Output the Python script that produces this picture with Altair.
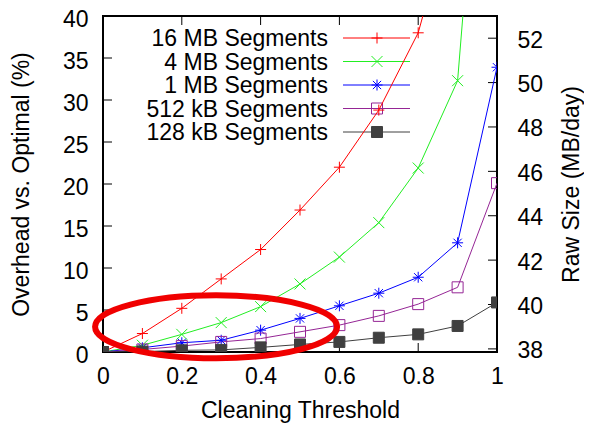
import altair as alt
import pandas as pd

# ---------------- data ----------------
thresholds = [0.0, 0.1, 0.2, 0.3, 0.4, 0.5, 0.6, 0.7, 0.8, 0.9, 1.0]
series_names = ["16 MB Segments", "4 MB Segments", "1 MB Segments",
                "512 kB Segments", "128 kB Segments"]
overhead_16mb = [0, 2.2, 5.2, 8.7, 12.2, 16.9, 22.0, 28.8, 38.0, 55.0, 110.0]
overhead_4mb = [0, 0.8, 2.1, 3.5, 5.4, 8.1, 11.3, 15.4, 21.9, 32.3, 90.0]
overhead_1mb = [0, 0.5, 1.1, 1.4, 2.6, 4.0, 5.5, 7.0, 8.9, 13.0, 33.9]
overhead_512kb = [0, 0.3, 0.7, 1.2, 1.6, 2.4, 3.2, 4.3, 5.7, 7.7, 20.1]
overhead_128kb = [0, 0.05, 0.2, 0.25, 0.55, 0.9, 1.2, 1.7, 2.1, 3.1, 5.9]

threshold_ticks = [0, 0.2, 0.4, 0.6, 0.8, 1.0]
overhead_ticks = [0, 5, 10, 15, 20, 25, 30, 35, 40]
raw_size_ticks = [38, 40, 42, 44, 46, 48, 50, 52]
raw_size_domain = [37.86, 53.0]

ellipse_x = [0.287]
ellipse_y = [3.0]

# ---------------- styles ----------------
FONT = "Liberation Sans"
FS = 23
W, H = 394, 336
colors = ["#ff0000", "#22ee22", "#0000ff", "#952595", "#404040"]
fills = ["transparent", "transparent", "transparent", "transparent", "#404040"]
PLUS = "M -1 0 L 1 0 M 0 -1 L 0 1"
CROSS = "M -1 -1 L 1 1 M -1 1 L 1 -1"
STAR = "M -1 0 L 1 0 M 0 -1 L 0 1 M -0.75 -0.75 L 0.75 0.75 M -0.75 0.75 L 0.75 -0.75"
shapes = [PLUS, CROSS, STAR, "square", "square"]
ELLIPSE = ("M 1 0 C 1 0.1436 0.5523 0.26 0 0.26 C -0.5523 0.26 -1 0.1436 -1 0 "
           "C -1 -0.1436 -0.5523 -0.26 0 -0.26 C 0.5523 -0.26 1 -0.1436 1 0 Z")

all_series = [overhead_16mb, overhead_4mb, overhead_1mb, overhead_512kb, overhead_128kb]
rows = []
for name, vals in zip(series_names, all_series):
    for t, v in zip(thresholds, vals):
        rows.append({"series": name, "threshold": t, "overhead": v})
df = pd.DataFrame(rows)

xscale = alt.Scale(domain=[0, 1], nice=False, zero=False)
yscale = alt.Scale(domain=[0, 40], nice=False, zero=False)
rscale = alt.Scale(domain=raw_size_domain, nice=False, zero=False)
cscale = alt.Scale(domain=series_names, range=colors)
fscale = alt.Scale(domain=series_names, range=fills)
sscale = alt.Scale(domain=series_names, range=shapes)

x_axis = alt.Axis(values=threshold_ticks, format="~g", ticks=False, tickSize=0,
                  domain=False, grid=False, labelPadding=13, labelFlush=False,
                  title="Cleaning Threshold", titleY=65, titleBaseline="alphabetic")
y_axis = alt.Axis(values=overhead_ticks, ticks=False, tickSize=0, domain=False,
                  grid=False, labelPadding=15, labelOffset=3, labelFlush=False,
                  title="Overhead vs. Optimal (%)", titleAngle=270,
                  titleX=-75, titleY=H / 2, titleBaseline="alphabetic")
r_axis = alt.Axis(orient="right", values=raw_size_ticks, ticks=False, tickSize=0,
                  domain=False, grid=False, labelPadding=20, labelOffset=2,
                  labelFlush=False,
                  title="Raw Size (MB/day)", titleAngle=270,
                  titleX=81, titleY=H / 2, titleBaseline="alphabetic")

X = alt.X("threshold:Q", scale=xscale, axis=x_axis)
base = alt.Chart(df)

lines = base.mark_line(strokeWidth=1, clip=True).encode(
    x=X,
    y=alt.Y("overhead:Q", scale=yscale, axis=y_axis),
    color=alt.Color("series:N", scale=cscale, legend=None),
)

points = base.mark_point(strokeWidth=1, opacity=1, size=121, clip=True).encode(
    x=X,
    y=alt.Y("overhead:Q", scale=yscale, axis=None),
    stroke=alt.Stroke("series:N", scale=cscale, legend=None),
    fill=alt.Fill("series:N", scale=fscale, legend=None),
    shape=alt.Shape("series:N", scale=sscale, legend=None),
)

# inner ticks (gnuplot style)
ytick_df = pd.DataFrame({"v": overhead_ticks})
xtick_df = pd.DataFrame({"threshold": threshold_ticks})
rtick_df = pd.DataFrame({"v": raw_size_ticks})

left_ticks = alt.Chart(ytick_df).mark_rule(color="black", strokeWidth=1).encode(
    x=alt.value(0), x2=alt.value(9),
    y=alt.Y("v:Q", scale=yscale, axis=None))
bottom_ticks = alt.Chart(xtick_df).mark_rule(color="black", strokeWidth=1).encode(
    x=X, y=alt.value(H), y2=alt.value(H - 9))
top_ticks = alt.Chart(xtick_df).mark_rule(color="black", strokeWidth=1).encode(
    x=X, y=alt.value(0), y2=alt.value(9))
right_ticks = alt.Chart(rtick_df).mark_rule(color="black", strokeWidth=1).encode(
    x=alt.value(W - 9), x2=alt.value(W),
    y=alt.Y("v:Q", scale=rscale, axis=r_axis))

# gnuplot-style key
legend_df = pd.DataFrame({"series": series_names, "row": list(range(len(series_names)))})
leg = alt.Chart(legend_df).transform_calculate(py="22 + datum.row * 23.5")
leg_text = leg.mark_text(align="right", baseline="middle", font=FONT, fontSize=FS,
                         color="black", dy=1).encode(
    x=alt.value(225), y=alt.Y("py:Q", scale=None, axis=None), text="series:N")
leg_line = leg.mark_rule(strokeWidth=1).encode(
    x=alt.value(240), x2=alt.value(307),
    y=alt.Y("py:Q", scale=None, axis=None),
    color=alt.Color("series:N", scale=cscale, legend=None))
leg_point = leg.mark_point(strokeWidth=1, opacity=1, size=121).encode(
    x=alt.value(274), y=alt.Y("py:Q", scale=None, axis=None),
    stroke=alt.Stroke("series:N", scale=cscale, legend=None),
    fill=alt.Fill("series:N", scale=fscale, legend=None),
    shape=alt.Shape("series:N", scale=sscale, legend=None))

# red highlight ellipse
ell_df = pd.DataFrame({"threshold": ellipse_x, "ey": ellipse_y})
ellipse = alt.Chart(ell_df).mark_point(shape=ELLIPSE, size=242 ** 2, filled=False,
                                       stroke="#f00000", strokeWidth=6,
                                       opacity=1).encode(
    x=X,
    y=alt.Y("ey:Q", scale=yscale, axis=None))

chart = alt.layer(
    left_ticks, bottom_ticks, top_ticks, right_ticks,
    leg_line, leg_text, leg_point,
    lines, points, ellipse,
).resolve_scale(y="independent").properties(
    width=W, height=H,
    padding={"left": 95, "top": 8, "right": 87, "bottom": 72},
    autosize=alt.AutoSizeParams(type="none"),
    background="white",
).configure_view(
    stroke="black", strokeWidth=2
).configure_axis(
    labelFont=FONT, labelFontSize=FS, labelColor="black",
    titleFont=FONT, titleFontSize=FS, titleFontWeight="normal", titleColor="black",
)

chart.save("out.html", embed_options={"renderer": "svg", "actions": False})
